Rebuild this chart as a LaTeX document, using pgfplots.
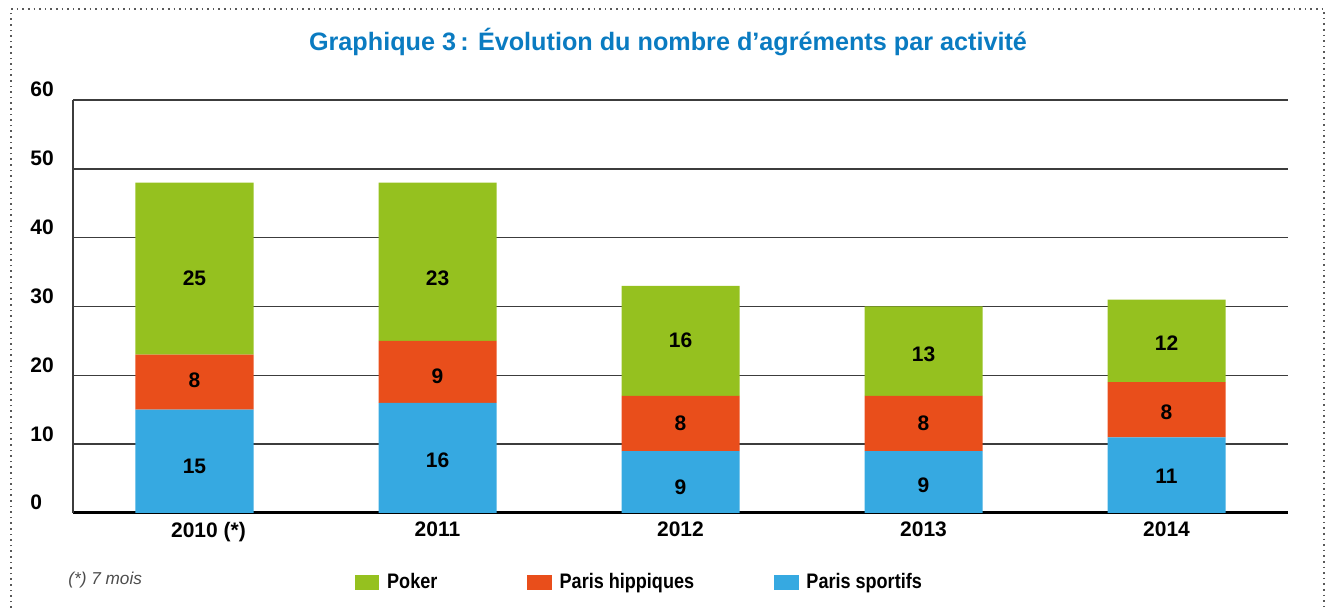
\documentclass[border=0pt]{standalone}
\usepackage{pgfplots}
\pgfplotsset{compat=1.18}
\usepackage{fontspec}
\setmainfont{Liberation Sans}
\newfontfamily\condsans{Liberation Sans}[FakeStretch=0.86]
\definecolor{pokergreen}{HTML}{95C11F}
\definecolor{hipporange}{HTML}{E94E1B}
\definecolor{sportblue}{HTML}{36A9E1}
\definecolor{titleblue}{HTML}{0A7BC1}
\definecolor{gridgray}{HTML}{3C3C3C}
\begin{document}
\begin{tikzpicture}[x=0.5pt,y=0.5pt]
\path[use as bounding box] (0,0) rectangle (1332,608);
\draw[gray!70!black, line width=0.8pt, dotted] (11,0) -- (11,599) -- (1324,599) -- (1324,0);
\node[font=\fontsize{12.6}{15}\selectfont\bfseries, text=titleblue] at (668,566) {Graphique 3\,: Évolution du nombre d’agréments par activité};
\node[font=\fontsize{8.6}{10}\selectfont\itshape, text=black!70, anchor=west, inner sep=0pt] at (68,28) {(*) 7 mois};
\begin{axis}[
  at={(73*0.5pt,95*0.5pt)}, anchor=south west,
  scale only axis, width=607.5pt, height=206.5pt,
  ybar stacked, bar width=59pt,
  xmin=-0.5, xmax=4.5, ymin=0, ymax=60,
  xtick={0,1,2,3,4},
  xticklabels={2010\rlap{ (*)},2011,2012,2013,2014},
  ytick={0,10,20,30,40,50,60},
  major tick length=0pt,
  axis x line*=bottom, axis y line*=left,
  x axis line style={black, line width=1.5pt},
  y axis line style={gridgray, line width=0.7pt},
  ymajorgrids, grid style={gridgray, line width=0.75pt},
  /pgf/number format/assume math mode=true,
  ticklabel style={font=\fontsize{10.5}{12}\selectfont\bfseries},
  yticklabel style={anchor=base west, inner sep=0pt, xshift=-21.5pt, yshift=1.5pt},
  xticklabel style={yshift=-1pt},
]
\addplot[fill=sportblue, draw=none] coordinates {(0,15) (1,16) (2,9) (3,9) (4,11)};
\addplot[fill=hipporange, draw=none] coordinates {(0,8) (1,9) (2,8) (3,8) (4,8)};
\addplot[fill=pokergreen, draw=none] coordinates {(0,25) (1,23) (2,16) (3,13) (4,12)};
\end{axis}
\begin{axis}[
  at={(73*0.5pt,95*0.5pt)}, anchor=south west,
  scale only axis, width=607.5pt, height=206.5pt,
  xmin=-0.5, xmax=4.5, ymin=0, ymax=60,
  hide axis,
  legend columns=3,
  legend style={draw=none, fill=none, inner sep=0pt, outer sep=0pt,
    at={(0.232,-0.167)}, anchor=west,
    font=\condsans\fontsize{10.5}{12}\selectfont\bfseries,
    /tikz/every odd column/.append style={column sep=2pt},
    /tikz/column 2/.style={column sep=43pt},
    /tikz/column 4/.style={column sep=38pt}},
  legend image code/.code={\fill[#1] (0pt,-3.5pt) rectangle (11.75pt,3.5pt);},
]
\addplot[forget plot, draw=none, mark=none, nodes near coords, point meta=explicit symbolic,
  every node near coord/.append style={anchor=center, font=\fontsize{10.5}{12}\selectfont\bfseries}]
  coordinates {
  (0,6.7)[15] (0,19.3)[8] (0,34.1)[25]
  (1,7.7)[16] (1,19.8)[9] (1,34.1)[23]
  (2,3.8)[9] (2,13.1)[8] (2,25.1)[16]
  (3,4.1)[9] (3,13.1)[8] (3,23.1)[13]
  (4,5.4)[11] (4,14.7)[8] (4,24.7)[12]
  };
\addlegendimage{pokergreen}
\addlegendentry{Poker}
\addlegendimage{hipporange}
\addlegendentry{Paris hippiques}
\addlegendimage{sportblue}
\addlegendentry{Paris sportifs}
\end{axis}
\end{tikzpicture}
\end{document}
